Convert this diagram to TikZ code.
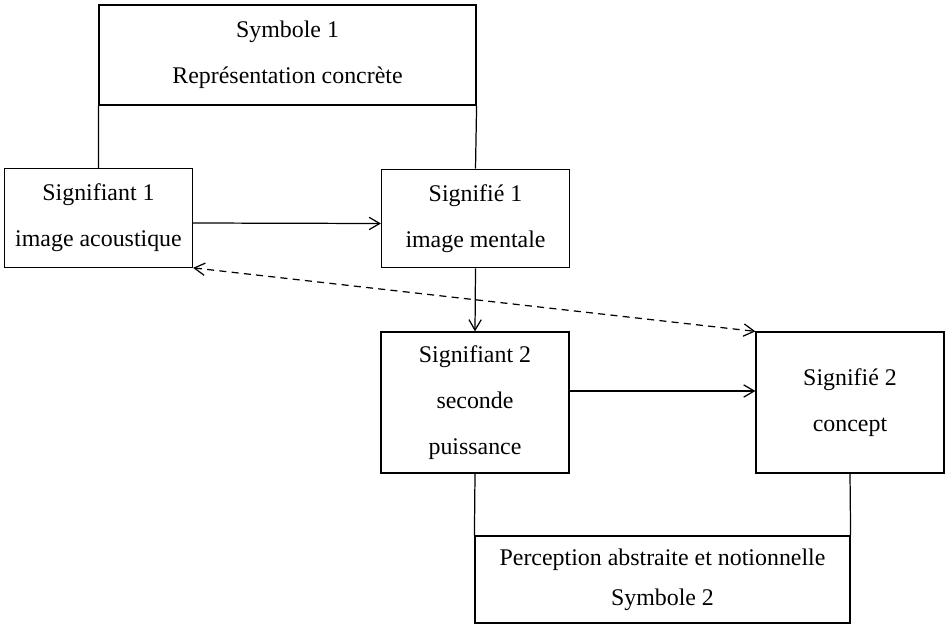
\documentclass[tikz,border=0pt]{standalone}
\usepackage{fontspec}
\setmainfont{Liberation Serif}
\usetikzlibrary{arrows.meta,positioning}

\begin{document}
\begin{tikzpicture}[x=0.02cm, y=-0.02cm,
    every node/.style={font=\fontsize{13.6}{26}\selectfont},
    box/.style={draw, line width=0.7pt, minimum width=3.76cm,
                minimum height=1.97cm, align=center, inner sep=0pt},
    tallbox/.style={box, minimum height=2.82cm},
    frame/.style={draw, line width=0.7pt, align=center, inner sep=0pt},
    arr/.style={-{Straight Barb[length=6pt,width=7pt]}, line width=0.7pt},
    dasharr/.style={{Straight Barb[length=6pt,width=7pt]}-{Straight Barb[length=6pt,width=7pt]},
                    line width=0.7pt, dash pattern=on 4pt off 3pt},
  ]
  \useasboundingbox (0,0) rectangle (945,629);

  % Symbol boxes
  \node[frame, minimum width=7.54cm, minimum height=2cm] (symb1) at (287.5,55)
    {Symbole 1\\Représentation concrète};
  \node[frame, minimum width=7.5cm, minimum height=1.74cm,
        font=\fontsize{13.6}{23}\selectfont] (symb2) at (662.5,579.5)
    {Perception abstraite et notionnelle\\Symbole 2};

  % Sign boxes
  \node[box] (sig1) at (98.5,218) {Signifiant 1\\image acoustique};
  \node[box] (sie1) at (475.5,218.5) {Signifié 1\\image mentale};
  \node[tallbox] (sig2) at (475,402.5) {Signifiant 2\\seconde\\puissance};
  \node[tallbox] (sie2) at (850,402.5) {Signifié 2\\concept};

  % Frame legs
  \draw[line width=0.7pt] (symb1.south west) -- (sig1.north);
  \draw[line width=0.7pt] (symb1.south east) -- (sie1.north);
  \draw[line width=0.7pt] (sig2.south) -- (symb2.north west);
  \draw[line width=0.7pt] (sie2.south) -- (symb2.north east);

  % Arrows
  \draw[arr] ([yshift=-0.1cm]sig1.east) -- ([yshift=-0.1cm]sie1.west);
  \draw[arr] (sie1.south) -- (sig2.north);
  \draw[arr] ([yshift=0.23cm]sig2.east) -- ([yshift=0.23cm]sie2.west);
  \draw[dasharr] (sig1.south east) -- (sie2.north west);
\end{tikzpicture}
\end{document}
